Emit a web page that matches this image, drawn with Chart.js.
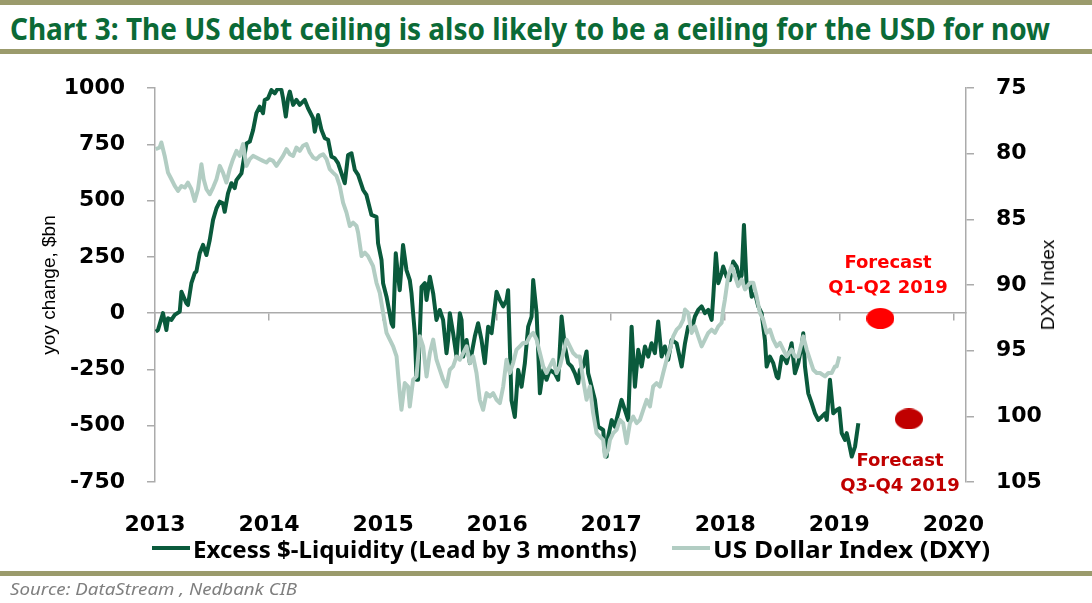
<!DOCTYPE html>
<html>
<head>
<meta charset="utf-8">
<script src="https://cdn.jsdelivr.net/npm/chart.js@4.4.1/dist/chart.umd.min.js"></script>
<style>
html,body{margin:0;padding:0;background:#fff;}
#wrap{position:relative;width:1092px;height:603px;overflow:hidden;background:#fff;}
#chart{position:absolute;left:0;top:0;}
.bar{position:absolute;left:0;width:1092px;background:#9B9B6C;}
.fit{position:absolute;white-space:nowrap;transform-origin:left center;}
#title{left:10px;top:10px;height:36px;line-height:36px;font-family:'Liberation Sans Narrow','Noto Sans',sans-serif;font-weight:bold;font-size:31px;color:#0B6A36;}
.leg{top:535px;height:28px;line-height:28px;font-family:'Liberation Sans Narrow','Noto Sans',sans-serif;font-weight:bold;font-size:23px;color:#000;}
.swatch{position:absolute;height:4px;width:38px;top:546px;}
#source{left:10px;top:578px;height:22px;line-height:22px;font-family:'Liberation Sans Narrow','Noto Sans',sans-serif;font-style:italic;font-size:17px;color:#7F7F7F;}
#dxyTitle{position:absolute;left:1048px;top:285px;transform:translate(-50%,-50%) rotate(-90deg);font-family:'Liberation Sans',Arial,sans-serif;font-size:19px;color:#000;white-space:nowrap;}
.ann{position:absolute;text-align:center;font-family:'DejaVu Sans',sans-serif;font-weight:bold;font-size:18px;line-height:25px;white-space:nowrap;transform:translateX(-50%);}
</style>
</head>
<body>
<div id="wrap">
  <div class="bar" style="top:0;height:5px;"></div>
  <div id="title" class="fit">Chart 3: The US debt ceiling is also likely to be a ceiling for the USD for now</div>
  <div class="bar" style="top:49px;height:5px;"></div>
  <canvas id="chart" width="1092" height="603"></canvas>
  <div id="dxyTitle">DXY Index</div>
  <div class="ann" style="left:888px;top:249px;color:#FF0000;">Forecast<br>Q1-Q2 2019</div>
  <div class="ann" style="left:900px;top:447px;color:#C00000;">Forecast<br>Q3-Q4 2019</div>
  <div class="swatch" style="left:152px;background:#0A5A3C;"></div>
  <div id="leg1" class="fit leg" style="left:193px;">Excess $-Liquidity (Lead by 3 months)</div>
  <div class="swatch" style="left:672px;background:#B2CDC3;"></div>
  <div id="leg2" class="fit leg" style="left:713px;">US Dollar Index (DXY)</div>
  <div class="bar" style="top:571px;height:5px;"></div>
  <div id="source" class="fit">Source: DataStream , Nedbank CIB</div>
</div>
<script>
// Excess $-Liquidity (lead by 3 months), yoy change $bn — left axis
const liqYears = [2013.006,2013.026,2013.070,2013.100,2013.114,2013.144,2013.173,2013.217,2013.232,2013.275,2013.289,2013.319,2013.348,2013.363,2013.392,2013.421,2013.451,2013.480,2013.509,2013.539,2013.568,2013.596,2013.611,2013.640,2013.670,2013.699,2013.714,2013.758,2013.802,2013.831,2013.860,2013.889,2013.918,2013.947,2013.962,2013.991,2014.021,2014.050,2014.079,2014.109,2014.123,2014.147,2014.167,2014.182,2014.211,2014.240,2014.269,2014.313,2014.342,2014.386,2014.401,2014.430,2014.460,2014.489,2014.518,2014.547,2014.576,2014.605,2014.635,2014.664,2014.693,2014.723,2014.752,2014.781,2014.825,2014.854,2014.898,2014.942,2014.956,2014.986,2015.000,2015.030,2015.074,2015.088,2015.111,2015.132,2015.146,2015.175,2015.205,2015.234,2015.249,2015.278,2015.293,2015.307,2015.337,2015.366,2015.381,2015.410,2015.439,2015.468,2015.497,2015.526,2015.556,2015.570,2015.585,2015.614,2015.644,2015.673,2015.688,2015.702,2015.732,2015.761,2015.804,2015.833,2015.863,2015.892,2015.921,2015.951,2015.965,2015.995,2016.024,2016.053,2016.082,2016.096,2016.126,2016.155,2016.184,2016.214,2016.243,2016.272,2016.302,2016.316,2016.346,2016.375,2016.404,2016.433,2016.462,2016.506,2016.535,2016.565,2016.594,2016.623,2016.653,2016.682,2016.711,2016.725,2016.754,2016.784,2016.798,2016.813,2016.857,2016.886,2016.930,2016.945,2016.960,2016.974,2017.004,2017.032,2017.061,2017.091,2017.120,2017.149,2017.179,2017.208,2017.237,2017.267,2017.296,2017.325,2017.354,2017.383,2017.412,2017.442,2017.471,2017.500,2017.530,2017.574,2017.618,2017.647,2017.675,2017.705,2017.734,2017.763,2017.793,2017.822,2017.851,2017.881,2017.895,2017.918,2017.939,2017.968,2017.982,2018.012,2018.041,2018.070,2018.100,2018.129,2018.144,2018.164,2018.188,2018.217,2018.232,2018.261,2018.289,2018.319,2018.348,2018.363,2018.392,2018.421,2018.451,2018.465,2018.495,2018.524,2018.539,2018.582,2018.611,2018.640,2018.670,2018.684,2018.699,2018.728,2018.758,2018.787,2018.816,2018.846,2018.875,2018.890,2018.918,2018.947,2018.977,2019.000,2019.021,2019.050,2019.065,2019.079,2019.109,2019.138,2019.167];
const liqValues = [-82,-75,0,-75,-23,-30,-8,7,95,44,36,133,178,185,266,303,258,325,414,466,495,488,450,532,577,555,591,621,754,762,813,888,917,888,947,954,991,976,999,991,954,873,954,984,925,947,925,947,910,866,806,880,813,777,770,695,688,666,621,577,702,710,636,614,547,525,436,428,310,236,133,73,-45,-60,266,162,102,303,191,147,88,-89,-296,-296,117,133,58,162,88,-30,14,-30,-178,-119,0,-89,-193,0,-30,-193,-119,-222,-104,-45,-119,-222,-60,-89,-30,95,58,30,58,102,-387,-461,-252,-327,-222,-60,-15,147,0,-356,-252,-296,-252,-267,-296,-15,-148,-222,-237,-267,-311,-252,-237,-170,-267,-296,-385,-504,-519,-622,-637,-548,-475,-504,-445,-385,-430,-475,-60,-327,-163,-237,-148,-193,-134,-178,-37,-193,-148,-207,-119,-134,-237,-134,-60,-75,-15,14,30,0,14,-30,73,266,133,177,207,162,147,229,207,147,169,392,118,133,73,88,30,0,-119,-237,-193,-222,-282,-289,-193,-207,-222,-134,-267,-222,-148,-89,-237,-356,-400,-445,-474,-460,-445,-474,-296,-445,-430,-423,-533,-563,-533,-563,-637,-593,-489];

// US Dollar Index (DXY) — right axis (inverted)
const dxyYears = [2013.006,2013.041,2013.056,2013.085,2013.114,2013.144,2013.173,2013.202,2013.232,2013.261,2013.289,2013.319,2013.348,2013.377,2013.407,2013.427,2013.451,2013.480,2013.509,2013.539,2013.568,2013.596,2013.626,2013.655,2013.684,2013.714,2013.743,2013.772,2013.802,2013.831,2013.860,2013.889,2013.918,2013.947,2013.977,2014.006,2014.035,2014.065,2014.094,2014.123,2014.153,2014.182,2014.211,2014.240,2014.269,2014.298,2014.328,2014.357,2014.386,2014.416,2014.445,2014.474,2014.504,2014.532,2014.561,2014.591,2014.620,2014.649,2014.679,2014.708,2014.737,2014.767,2014.781,2014.811,2014.840,2014.868,2014.912,2014.942,2014.971,2015.000,2015.030,2015.059,2015.088,2015.118,2015.146,2015.161,2015.190,2015.219,2015.234,2015.263,2015.293,2015.322,2015.351,2015.381,2015.410,2015.439,2015.468,2015.497,2015.526,2015.556,2015.585,2015.614,2015.644,2015.673,2015.702,2015.732,2015.761,2015.789,2015.819,2015.848,2015.877,2015.907,2015.936,2015.965,2015.995,2016.024,2016.053,2016.082,2016.111,2016.140,2016.170,2016.199,2016.228,2016.258,2016.287,2016.316,2016.346,2016.375,2016.404,2016.433,2016.462,2016.491,2016.521,2016.550,2016.579,2016.609,2016.638,2016.667,2016.697,2016.725,2016.754,2016.784,2016.813,2016.842,2016.872,2016.901,2016.930,2016.945,2016.974,2016.989,2017.018,2017.047,2017.076,2017.105,2017.135,2017.164,2017.193,2017.223,2017.252,2017.281,2017.311,2017.340,2017.368,2017.398,2017.427,2017.456,2017.486,2017.515,2017.544,2017.574,2017.603,2017.632,2017.647,2017.675,2017.705,2017.734,2017.763,2017.793,2017.822,2017.851,2017.881,2017.910,2017.939,2017.968,2017.982,2017.997,2018.026,2018.056,2018.085,2018.114,2018.144,2018.173,2018.217,2018.246,2018.275,2018.304,2018.333,2018.363,2018.392,2018.421,2018.451,2018.480,2018.509,2018.539,2018.582,2018.611,2018.640,2018.670,2018.684,2018.714,2018.743,2018.772,2018.802,2018.831,2018.875,2018.904,2018.933,2018.962,2018.977,2019.000];
const dxyValues = [79.66,79.53,79.15,80.17,81.44,81.95,82.46,82.84,82.46,82.58,82.20,82.71,83.60,82.71,80.80,81.95,82.71,83.09,82.58,81.95,80.93,81.44,82.20,81.18,80.42,79.79,80.17,79.27,80.93,80.42,80.17,80.29,80.42,80.55,80.67,80.42,80.55,80.93,80.55,80.17,79.66,80.04,80.17,79.53,79.79,79.40,79.27,79.91,80.29,80.42,80.17,80.04,80.42,81.18,81.44,81.69,82.46,83.73,84.49,85.51,85.25,85.51,86.02,87.80,87.54,87.80,88.57,89.83,90.60,92.12,93.65,94.16,94.67,95.44,98.23,99.50,97.47,97.73,99.25,97.21,96.96,93.91,94.67,96.96,95.18,94.16,95.69,96.45,97.21,97.73,96.45,96.20,95.44,95.69,95.18,94.67,95.94,95.44,96.70,98.74,99.50,98.23,98.49,98.23,98.74,98.99,97.73,95.69,96.70,95.94,94.92,94.67,94.41,94.41,93.91,93.65,94.16,95.18,96.20,96.70,96.20,95.69,96.70,96.20,95.18,94.16,94.67,95.18,95.44,95.44,97.21,98.74,97.73,99.76,101.28,101.54,101.80,103.07,102.56,101.80,101.28,101.03,100.27,100.52,102.05,100.52,100.02,100.52,100.27,99.50,98.74,99.25,97.73,97.47,97.73,96.70,95.69,94.92,93.91,93.40,93.15,92.63,91.87,92.12,93.65,93.15,93.91,94.67,94.16,93.65,93.40,93.65,93.15,92.89,91.87,91.11,89.33,88.57,89.33,90.09,89.58,90.34,89.83,89.83,90.86,92.12,92.63,93.65,93.40,94.16,94.67,94.41,94.92,95.44,94.92,95.44,95.44,94.41,93.91,94.92,95.69,96.45,96.70,96.70,96.96,96.70,96.70,96.20,96.20,95.44];

// Forecast markers (DXY, right axis)
const forecastLabels = ['Forecast Q1-Q2 2019', 'Forecast Q3-Q4 2019'];
const forecastYears = [2019.36, 2019.61];
const forecastDxy = [92.55, 100.2];

// Tick labels
const yearTicks = [2013, 2014, 2015, 2016, 2017, 2018, 2019, 2020];
const leftTicks = [-750, -500, -250, 0, 250, 500, 750, 1000];
const rightTicks = [75, 80, 85, 90, 95, 100, 105];

const pts = (xs, ys) => xs.map((x, i) => ({x: x, y: ys[i]}));

function ellipse(color, w, h) {
  const c = document.createElement('canvas');
  c.width = w; c.height = h;
  const g = c.getContext('2d');
  g.fillStyle = color;
  g.beginPath();
  g.ellipse(w / 2, h / 2, w / 2, h / 2, 0, 0, Math.PI * 2);
  g.fill();
  return c;
}

const axisGray = '#ABABAB';
const tickFont = {family: "'DejaVu Sans', Verdana, sans-serif", weight: 'bold', size: 22};
const plain = v => String(v);

new Chart(document.getElementById('chart'), {
  type: 'line',
  data: {
    datasets: [
      {label: 'Excess $-Liquidity (Lead by 3 months)', data: pts(liqYears, liqValues), borderColor: '#0A5A3C', borderWidth: 4, pointRadius: 0, tension: 0, borderJoinStyle: 'round', yAxisID: 'y', order: 1},
      {label: 'US Dollar Index (DXY)', data: pts(dxyYears, dxyValues), borderColor: '#B2CDC3', borderWidth: 4, pointRadius: 0, tension: 0, borderJoinStyle: 'round', yAxisID: 'y2', order: 0},
      {label: forecastLabels[0], data: [{x: forecastYears[0], y: forecastDxy[0]}], showLine: false, pointStyle: ellipse('#FF0000', 28, 21), pointRadius: 12, yAxisID: 'y2', order: -1},
      {label: forecastLabels[1], data: [{x: forecastYears[1], y: forecastDxy[1]}], showLine: false, pointStyle: ellipse('#C00000', 28, 21), pointRadius: 12, yAxisID: 'y2', order: -1}
    ]
  },
  options: {
    responsive: false,
    animation: false,
    events: [],
    layout: {padding: {top: 88, left: 0, right: 0, bottom: 71}},
    plugins: {legend: {display: false}, tooltip: {enabled: false}},
    scales: {
      x: {
        type: 'linear', position: 'bottom', min: 2013, max: 2020.111,
        afterBuildTicks: s => { s.ticks = yearTicks.map(v => ({value: v})); },
        grid: {display: false}, border: {display: false},
        ticks: {font: tickFont, color: '#000', padding: 22, maxRotation: 0, autoSkip: false, callback: plain},
        afterFit: s => { s.height = 50; }
      },
      xZero: {
        type: 'linear', position: {y: 0}, min: 2013, max: 2020.111,
        afterBuildTicks: s => { s.ticks = yearTicks.map(v => ({value: v})); },
        grid: {drawOnChartArea: false, drawTicks: true, tickLength: 7, color: axisGray, lineWidth: 1.5},
        border: {display: true, color: axisGray, width: 1.5},
        ticks: {display: false}
      },
      y: {
        type: 'linear', position: 'left', min: -750, max: 1000,
        afterBuildTicks: s => { s.ticks = leftTicks.map(v => ({value: v})); },
        grid: {drawOnChartArea: false, drawTicks: true, tickLength: 8, color: axisGray, lineWidth: 1.5},
        border: {display: true, color: axisGray, width: 1.5},
        ticks: {font: tickFont, color: '#000', padding: 22, callback: plain},
        title: {display: true, text: 'yoy change, $bn', color: '#000', font: {family: "'Liberation Sans', Arial, sans-serif", size: 19}, padding: {top: 38.5, bottom: 0}},
        afterFit: s => { s.width = 155; }
      },
      y2: {
        type: 'linear', position: 'right', reverse: true, min: 75, max: 105,
        afterBuildTicks: s => { s.ticks = rightTicks.map(v => ({value: v})); },
        grid: {drawOnChartArea: false, drawTicks: true, tickLength: 8, color: axisGray, lineWidth: 1.5},
        border: {display: true, color: axisGray, width: 1.5},
        ticks: {font: tickFont, color: '#000', padding: 22, callback: plain},
        afterFit: s => { s.width = 126; }
      }
    }
  }
});

function fitWidth(id, w) {
  const el = document.getElementById(id);
  el.style.transform = 'none';
  const r = el.getBoundingClientRect().width;
  if (r > 0) el.style.transform = 'scaleX(' + (w / r) + ')';
}
function fitAll() {
  fitWidth('title', 1040);
  fitWidth('leg1', 444);
  fitWidth('leg2', 277);
  fitWidth('source', 287);
}
fitAll();
if (document.fonts && document.fonts.ready) document.fonts.ready.then(fitAll);
</script>
</body>
</html>
